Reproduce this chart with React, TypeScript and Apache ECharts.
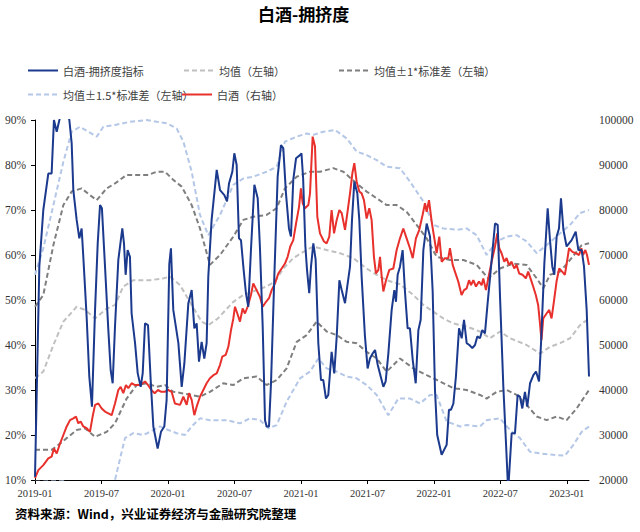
import React, { useEffect, useRef } from "react";
import * as echarts from "echarts";

// x positions are months since 2019-01
const crowdMonths = [0, 0.39, 0.75, 1.2, 1.5, 1.71, 1.96, 2.2, 2.6, 3.1, 3.31, 3.46, 3.76, 4.0, 4.21, 4.36, 4.66, 4.9, 5.14, 5.42, 5.66, 5.87, 6.04, 6.32, 6.62, 6.83, 7.01, 7.22, 7.52, 7.88, 8.03, 8.18, 8.36, 8.57, 8.72, 9.03, 9.27, 9.54, 9.72, 9.93, 10.2, 10.44, 10.68, 11.07, 11.37, 11.67, 11.88, 12.12, 12.27, 12.48, 12.94, 13.24, 13.48, 13.84, 14.14, 14.38, 14.59, 14.8, 15.04, 15.28, 15.49, 15.64, 15.94, 16.4, 16.7, 17.09, 17.33, 17.51, 17.81, 17.99, 18.2, 18.41, 18.59, 18.83, 19.04, 19.25, 19.49, 19.8, 20.1, 20.31, 20.55, 20.76, 20.91, 21.12, 21.3, 21.6, 21.9, 22.2, 22.41, 22.65, 22.92, 23.1, 23.31, 23.56, 23.92, 24.05, 24.2, 24.4, 24.55, 24.75, 24.91, 25.12, 25.33, 25.57, 25.81, 26.02, 26.26, 26.47, 26.77, 27.01, 27.23, 27.47, 27.68, 27.98, 28.22, 28.43, 28.61, 28.82, 29.09, 29.27, 29.48, 29.78, 30.02, 30.23, 30.47, 30.69, 30.93, 31.2, 31.44, 31.65, 31.89, 32.19, 32.43, 32.58, 32.73, 32.94, 33.18, 33.39, 33.63, 33.84, 34.09, 34.36, 34.6, 34.81, 35.05, 35.35, 35.65, 35.89, 36.1, 36.3, 36.7, 37.15, 37.36, 37.54, 37.76, 37.99, 38.27, 38.51, 38.72, 38.96, 39.2, 39.47, 39.71, 39.92, 40.16, 40.37, 40.61, 40.85, 41.16, 41.52, 41.76, 41.97, 42.27, 42.51, 42.66, 42.75, 43.02, 43.32, 43.56, 43.77, 43.98, 44.22, 44.43, 44.68, 44.98, 45.22, 45.49, 45.67, 45.97, 46.27, 46.48, 46.69, 46.87, 47.08, 47.29, 47.47, 47.69, 47.98, 48.43, 48.8, 49.04, 49.34, 49.55, 49.79, 50.0];
const crowdValues = [10.7, 57.4, 70, 78.1, 78.1, 90, 87.4, 90, 95, 90, 84.8, 74.4, 67.8, 63.7, 65.9, 59.6, 46.3, 33, 26.3, 47.8, 62.6, 71.1, 70.4, 57.4, 43.3, 34.4, 31.5, 44.1, 58.9, 65.9, 62.6, 55.6, 61.1, 59.6, 47, 40.4, 33.7, 30.7, 33.7, 44.8, 44.4, 32.2, 21.9, 17, 20.7, 21.9, 27.8, 58, 61.5, 47.8, 40.4, 30.7, 35.9, 49.3, 52.2, 43.7, 44.8, 36.3, 40.7, 37, 40.4, 55.2, 67.8, 78.9, 74.4, 73.3, 71.9, 75.9, 78.5, 82.6, 80, 63.7, 63.3, 56.7, 51.5, 48.5, 61.1, 75.6, 72.6, 61.1, 44.1, 23.3, 21.9, 21.9, 31.5, 55.2, 77.4, 84.4, 83.7, 73.7, 65.9, 64.1, 76.7, 81.5, 82.2, 82.6, 77, 62, 56.7, 51.5, 57.4, 62.6, 58.9, 40.4, 32.2, 32.2, 28.1, 28.9, 38.5, 33.7, 41.9, 54.4, 52.2, 49.3, 53.7, 57.4, 67.8, 76.3, 73.7, 67.8, 55.2, 41.9, 34.8, 37, 38.1, 38.9, 35.6, 33, 30.7, 31.9, 38.1, 47.8, 52.2, 49.6, 55.6, 57.4, 61.1, 51.9, 43.7, 43.7, 36.7, 31.5, 43.3, 45.6, 61.1, 67, 64.1, 52, 30, 20, 15.6, 17.8, 25.6, 25.6, 27, 33, 43.7, 41.5, 45.6, 40.4, 40, 39.3, 40, 41.9, 41.5, 43.3, 42.6, 49.3, 57.4, 67, 66.7, 50.7, 30.7, 18.1, 10, 9.5, 20.4, 20.4, 28.9, 28.5, 25.9, 29.6, 26.3, 31.5, 33.3, 34.1, 31.9, 40.4, 58.1, 70.4, 63.3, 57.4, 55.6, 64.1, 65.9, 72.6, 65.6, 61.9, 63.3, 65.2, 61.1, 61.1, 57.4, 47.8, 33];

const priceMonths = [0, 0.3, 0.75, 1.2, 1.5, 1.71, 1.96, 2.26, 2.56, 2.86, 3.16, 3.46, 3.7, 3.91, 4.12, 4.36, 4.66, 4.96, 5.2, 5.42, 5.72, 6.02, 6.32, 6.62, 6.92, 7.22, 7.52, 7.73, 7.97, 8.21, 8.42, 8.72, 9.03, 9.48, 9.93, 10.2, 10.5, 10.8, 11.1, 11.4, 11.7, 12.03, 12.33, 12.63, 13.09, 13.39, 13.69, 13.9, 14.14, 14.38, 14.59, 14.89, 15.19, 15.49, 15.79, 16.1, 16.4, 16.7, 16.9, 17.21, 17.45, 17.69, 17.9, 18.05, 18.26, 18.5, 18.74, 18.95, 19.19, 19.49, 19.7, 20.0, 20.3, 20.55, 20.85, 21.12, 21.36, 21.66, 21.96, 22.26, 22.56, 22.8, 23.04, 23.31, 23.56, 23.83, 24.0, 24.16, 24.37, 24.67, 24.82, 25.06, 25.27, 25.48, 25.72, 26.08, 26.32, 26.56, 26.77, 26.99, 27.23, 27.47, 27.68, 27.98, 28.19, 28.43, 28.64, 28.82, 29.03, 29.27, 29.48, 29.69, 29.93, 30.17, 30.38, 30.59, 30.77, 30.99, 31.14, 31.29, 31.44, 31.68, 31.98, 32.34, 32.64, 32.94, 33.24, 33.54, 33.84, 34.09, 34.38, 34.68, 34.98, 35.2, 35.35, 35.56, 35.8, 36.04, 36.25, 36.49, 36.7, 37.0, 37.3, 37.45, 37.7, 37.9, 38.2, 38.5, 38.72, 38.96, 39.17, 39.35, 39.56, 39.8, 40.07, 40.31, 40.46, 40.7, 40.91, 41.21, 41.51, 41.72, 41.9, 42.11, 42.35, 42.56, 42.77, 43.01, 43.25, 43.46, 43.7, 44.0, 44.3, 44.51, 44.72, 44.96, 45.2, 45.41, 45.56, 45.71, 45.87, 46.17, 46.41, 46.62, 46.83, 47.07, 47.31, 47.58, 47.82, 47.97, 48.2, 48.5, 48.8, 49.1, 49.31, 49.46, 49.67, 49.82, 50.0];
const priceValues = [20400, 22200, 23300, 24800, 25200, 27000, 25900, 28100, 30000, 31900, 33300, 33700, 34100, 32600, 33000, 31900, 31500, 30700, 34100, 36700, 37000, 35900, 35200, 34800, 34400, 37000, 40000, 40700, 39300, 41100, 40400, 41500, 41100, 41100, 41900, 41100, 40000, 39300, 40000, 39600, 39600, 40000, 39600, 37000, 36700, 38500, 36700, 39300, 37800, 34400, 36300, 38500, 40000, 41500, 42600, 43300, 43700, 45600, 47400, 47800, 49600, 53300, 55900, 58500, 57000, 55200, 58100, 57000, 58500, 61100, 63700, 62200, 60700, 58500, 59600, 60400, 62200, 63700, 65900, 67000, 68100, 69600, 71900, 73300, 77000, 80700, 84800, 81500, 80400, 81100, 83700, 96300, 94100, 78500, 74800, 73000, 72600, 74100, 80000, 74800, 77800, 80000, 79300, 75600, 79300, 83700, 88100, 90400, 86300, 84100, 83700, 82200, 78100, 80400, 77800, 69600, 65900, 66700, 69600, 65200, 61900, 64400, 66700, 67000, 71100, 73700, 75900, 73700, 71500, 69300, 73700, 75600, 78900, 81500, 79600, 82200, 77400, 73700, 70400, 74100, 68500, 69300, 69300, 71500, 67800, 66300, 64100, 61100, 62200, 62600, 64400, 63300, 64400, 63000, 64100, 63300, 64800, 62200, 64800, 68500, 71800, 74800, 71500, 70400, 68500, 69300, 67800, 68500, 67000, 67800, 65900, 65600, 64800, 66300, 64800, 63000, 61100, 58900, 55200, 51100, 55900, 57000, 57800, 55900, 59600, 64100, 67000, 66300, 65600, 67800, 71500, 70700, 70400, 70000, 71500, 70000, 71100, 70000, 67800];

const meanMonths = [0, 0.75, 1.66, 2.56, 3.76, 4.51, 5.42, 6.47, 7.22, 7.97, 8.87, 10.38, 11.58, 12.18, 13.09, 14.14, 15.04, 15.64, 16.5, 17.9, 18.8, 20.0, 20.9, 21.66, 22.41, 23.31, 24.22, 25.12, 26.32, 27.53, 28.73, 29.93, 30.84, 31.74, 32.94, 34.15, 35.05, 35.95, 36.85, 37.76, 38.96, 40.16, 41.06, 41.97, 42.87, 44.37, 45.58, 46.48, 47.38, 48.29, 49.19, 50];
const meanValues = [32.6, 34.1, 40, 45.2, 48.5, 47.8, 45.9, 48.1, 48.9, 53, 54.4, 54.4, 54.8, 55.2, 53.3, 48.9, 45.2, 44.4, 45.9, 49.6, 51.1, 52.2, 53, 54.1, 57, 59.3, 60.7, 61.9, 61.1, 60.4, 59.3, 57, 55.6, 54.4, 53.5, 51.1, 48.9, 47.4, 45.9, 44.8, 44.1, 43, 41.5, 43, 41.5, 40, 38.1, 39.6, 40.4, 41.5, 44.4, 45.9];

const upper1Months = [0, 0.75, 1.66, 2.56, 3.31, 4.21, 4.96, 5.57, 6.47, 7.22, 8.27, 9.48, 10.23, 10.98, 11.73, 12.48, 13.24, 14.14, 14.89, 15.79, 16.7, 17.9, 18.8, 19.7, 20.9, 21.81, 22.56, 23.62, 24.82, 25.72, 26.92, 27.83, 29.03, 29.93, 30.84, 31.74, 32.64, 33.54, 34.44, 35.35, 36.25, 37.45, 38.66, 39.86, 40.91, 41.97, 43.17, 44.37, 45.28, 45.88, 46.48, 47.38, 48.29, 49.34, 50];
const upper1Values = [48.5, 51.1, 62.2, 71.1, 74.1, 74.8, 73.3, 72.2, 74.8, 75.9, 77.8, 77.8, 77.8, 78.5, 78.5, 76.7, 75.2, 71.1, 65.9, 57.8, 60, 64.1, 67.8, 68.5, 68.9, 70.4, 74.8, 77.4, 78.5, 78.5, 79.3, 78.5, 75.9, 74.1, 72.6, 71.1, 71.1, 69.6, 66.7, 63.7, 59.6, 58.9, 58.9, 57.8, 54.8, 57, 58.1, 57.8, 54.8, 52.6, 55.6, 56.3, 58.9, 62.2, 62.6];

const lower1Months = [0, 1.5, 2.11, 2.86, 3.76, 4.51, 5.42, 6.47, 7.22, 8.27, 9.18, 10.08, 10.98, 11.73, 12.48, 13.24, 14.14, 14.89, 15.79, 17.0, 17.9, 18.8, 20.0, 20.9, 21.81, 22.71, 23.62, 24.52, 25.42, 26.32, 27.23, 28.13, 29.03, 29.93, 30.84, 31.74, 32.94, 34.15, 35.35, 36.55, 37.76, 38.96, 40.16, 40.76, 41.67, 42.57, 43.47, 44.37, 45.28, 46.18, 47.08, 47.98, 48.89, 50];
const lower1Values = [16.7, 16.7, 17.8, 19.3, 21.1, 21.5, 19.6, 20.7, 22.6, 28.1, 31.1, 31.5, 30.7, 31.1, 29.6, 29.3, 28.9, 28.5, 29.6, 31.5, 31.1, 32.6, 33, 31.1, 32.2, 34.8, 40.7, 42.2, 45.2, 43, 42.2, 40.7, 40.4, 38.5, 37, 34.1, 37, 34.8, 33.3, 31.9, 30.4, 30, 28.9, 28.1, 29.6, 30, 28.9, 26.7, 24.1, 23.3, 24.1, 23.3, 25.9, 30];

const upper15Months = [0, 0.75, 1.66, 2.56, 3.31, 4.06, 4.81, 5.57, 6.17, 7.22, 8.57, 10.08, 10.98, 11.88, 12.79, 13.39, 14.14, 14.89, 15.64, 16.7, 17.9, 18.8, 19.7, 20.9, 21.81, 22.56, 23.62, 24.52, 25.12, 26.02, 27.07, 28.13, 29.03, 29.93, 30.84, 31.74, 32.94, 33.84, 35.05, 35.95, 36.85, 38.06, 38.96, 39.86, 40.76, 41.67, 42.57, 43.47, 44.37, 45.28, 46.18, 47.38, 48.29, 49.19, 50];
const upper15Values = [55.6, 61.5, 71.1, 80.7, 87.4, 88.5, 87.4, 86.3, 88.5, 88.9, 89.6, 90, 89.6, 89.3, 88.1, 85.2, 78.5, 68.9, 64.4, 68.9, 75.6, 77, 77.4, 78.5, 79.6, 85.2, 86.3, 87, 86.7, 87.4, 87.8, 85.9, 83, 82.2, 81.1, 79.6, 79.3, 76.3, 71.9, 66.7, 65.9, 65.6, 65.9, 64.4, 60, 63, 64.1, 64.4, 63, 60.4, 62.2, 64.8, 66.7, 69.3, 70];

const lower15Months = [0, 2.56, 4.51, 6.47, 7.22, 8.12, 8.87, 9.78, 10.38, 11.28, 12.03, 12.79, 13.54, 14.14, 14.89, 15.79, 17.3, 18.5, 19.4, 20.3, 21.06, 21.81, 22.71, 23.92, 24.82, 25.57, 26.32, 27.23, 28.13, 29.03, 29.93, 30.84, 31.89, 32.79, 33.84, 34.75, 35.65, 36.25, 37.15, 38.36, 38.96, 40.16, 40.76, 41.97, 42.87, 43.77, 44.67, 45.58, 46.78, 47.83, 48.59, 49.34, 50];
const lower15Values = [9.6, 9.7, 7.6, 7.5, 10, 19.3, 20.4, 20, 20.7, 21.9, 21.1, 20.4, 20, 21.9, 23.7, 23.3, 23.3, 22.6, 23.7, 23.3, 21.5, 22.2, 27.4, 32.6, 34.1, 37, 34.8, 34.1, 33, 32.6, 31.1, 28.9, 24.4, 28.1, 28.1, 27, 28.9, 28.9, 23, 21.9, 22.2, 21.9, 23.3, 23.7, 21.1, 19.3, 16.3, 15.9, 15.6, 15.4, 17.8, 20.7, 21.9];

const startYear = 2019;
const seriesNames = ["白酒-拥挤度指标", "均值（左轴）", "均值±1*标准差（左轴）", "均值±1.5*标准差（左轴）", "白酒（右轴）"];

const zip = (xs: number[], ys: number[]) => xs.map((x, i) => [x, ys[i]]);
const monthLabel = (v: number) => {
  const y = startYear + Math.floor(v / 12);
  const m = Math.round(v % 12) + 1;
  return `${y}-${m < 10 ? "0" + m : m}`;
};

const CJK = '"Noto Sans CJK SC", sans-serif';
const SERIF = '"Liberation Serif", "DejaVu Serif", serif';

export default function App() {
  const ref = useRef<HTMLDivElement>(null);
  useEffect(() => {
    if (!ref.current) return;
    const chart = echarts.init(ref.current, undefined, { renderer: "svg" });
    const dashed = (name: string, data: number[][], color: string, z = 2) => ({
      name,
      type: "line",
      data,
      yAxisIndex: 0,
      symbol: "none",
      showSymbol: false,
      z,
      lineStyle: { color, width: 2, type: [5, 3] },
      itemStyle: { color },
    });
    const legendBase = {
      itemWidth: 30,
      itemHeight: 12,
      itemGap: 5,
      padding: 0,
      textStyle: { fontFamily: CJK, fontSize: 11, color: "#404040" },
      itemStyle: { opacity: 0 },
    };
    chart.setOption({
      animation: false,
      backgroundColor: "#ffffff",
      title: [
        {
          text: "白酒-拥挤度",
          left: 258,
          top: 5,
          padding: 0,
          textStyle: { fontFamily: CJK, fontSize: 17, fontWeight: "bold", color: "#000" },
        },
        {
          text: "资料来源：Wind，兴业证券经济与金融研究院整理",
          left: 15,
          top: 507,
          padding: 0,
          textStyle: { fontFamily: CJK, fontSize: 12.5, fontWeight: "bold", color: "#000" },
        },
      ],
      legend: [
        { ...legendBase, data: [seriesNames[0]], left: 27, top: 65 },
        { ...legendBase, data: [seriesNames[1]], left: 183, top: 65 },
        { ...legendBase, data: [seriesNames[2]], left: 338, top: 65 },
        { ...legendBase, data: [seriesNames[3]], left: 27, top: 89 },
        { ...legendBase, data: [seriesNames[4]], left: 181, top: 89 },
      ],
      grid: { left: 35, right: 51, top: 120, bottom: 52, containLabel: false },
      xAxis: {
        type: "value",
        min: 0,
        max: 50,
        interval: 6,
        axisLine: { show: true, lineStyle: { color: "#000", width: 1 } },
        axisTick: { show: true, length: 4, lineStyle: { color: "#000" } },
        splitLine: { show: false },
        axisLabel: {
          formatter: monthLabel,
          fontFamily: SERIF,
          fontSize: 10.5,
          color: "#333",
          margin: 8,
          showMaxLabel: false,
        },
      },
      yAxis: [
        {
          type: "value",
          min: 10,
          max: 90,
          interval: 10,
          axisLine: { show: true, lineStyle: { color: "#000", width: 1 } },
          axisTick: { show: true, length: 4, lineStyle: { color: "#000" } },
          splitLine: { show: false },
          axisLabel: { formatter: "{value}%", fontFamily: SERIF, fontSize: 11.5, color: "#333", margin: 9 },
        },
        {
          type: "value",
          min: 20000,
          max: 100000,
          interval: 10000,
          position: "right",
          axisLine: { show: false },
          axisTick: { show: false },
          splitLine: { show: false },
          axisLabel: {
            formatter: (v: number) => String(v),
            fontFamily: SERIF,
            fontSize: 11.5,
            color: "#333",
            margin: 10,
          },
        },
      ],
      series: [
        dashed(seriesNames[3], zip(upper15Months, upper15Values), "#B4C7E7"),
        dashed(seriesNames[3], zip(lower15Months, lower15Values), "#B4C7E7"),
        dashed(seriesNames[1], zip(meanMonths, meanValues), "#C0C0C0"),
        dashed(seriesNames[2], zip(upper1Months, upper1Values), "#7F7F7F"),
        dashed(seriesNames[2], zip(lower1Months, lower1Values), "#7F7F7F"),
        {
          name: seriesNames[4],
          type: "line",
          yAxisIndex: 1,
          data: zip(priceMonths, priceValues),
          symbol: "none",
          showSymbol: false,
          z: 3,
          lineStyle: { color: "#E8302C", width: 2 },
          itemStyle: { color: "#E8302C" },
        },
        {
          name: seriesNames[0],
          type: "line",
          yAxisIndex: 0,
          data: zip(crowdMonths, crowdValues),
          symbol: "none",
          showSymbol: false,
          z: 4,
          lineStyle: { color: "#1B3A8E", width: 2 },
          itemStyle: { color: "#1B3A8E" },
        },
      ],
    });
    return () => chart.dispose();
  }, []);
  return (
    <div
      ref={ref}
      style={{ position: "fixed", left: 0, top: 0, width: 640, height: 532, background: "#fff" }}
    />
  );
}
